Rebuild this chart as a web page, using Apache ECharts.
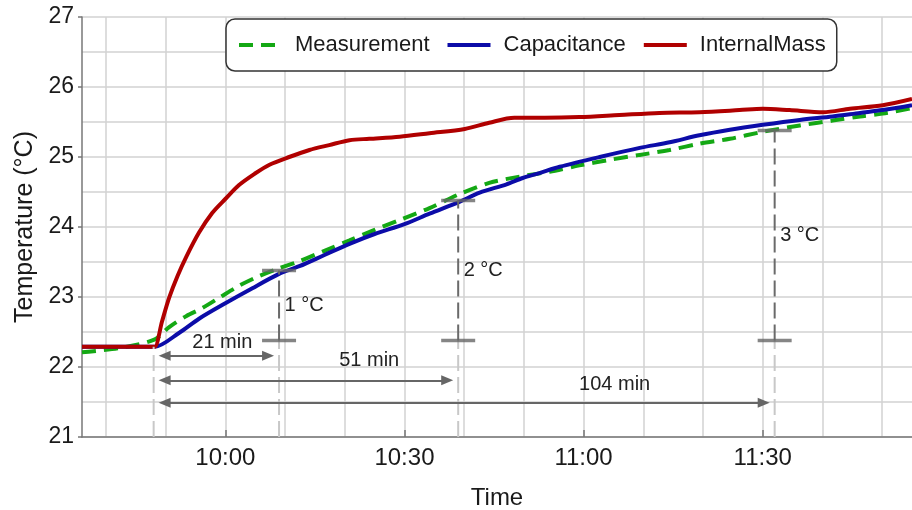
<!DOCTYPE html>
<html>
<head>
<meta charset="utf-8">
<script src="https://cdn.jsdelivr.net/npm/echarts@6/dist/echarts.min.js"></script>
<style>
  html, body { margin: 0; padding: 0; background: #ffffff; }
  #chart { width: 912px; height: 510px; }
</style>
</head>
<body>
<div id="chart"></div>
<script>
// All times are minutes after 09:00, temperatures in °C.
const measTime = [36, 42.2, 48.1, 50.6, 53.5, 56.1, 59, 62.3, 65.7, 69, 72.4, 76.6, 80.8, 85, 89.2, 94.2, 99.2, 104.2, 109.3, 114.3, 119.3, 124.4, 129.4, 134.4, 139.4, 144.5, 150, 156.2, 161.7, 166.3, 170.1, 175];
const measTemp = [22.21, 22.27, 22.39, 22.57, 22.73, 22.84, 22.99, 23.16, 23.30, 23.41, 23.51, 23.66, 23.81, 23.96, 24.10, 24.27, 24.47, 24.63, 24.72, 24.79, 24.88, 24.96, 25.03, 25.10, 25.19, 25.26, 25.36, 25.45, 25.52, 25.58, 25.62, 25.70];

const capTime = [36, 44, 47.8, 48.2, 52.3, 55.6, 60, 64, 69, 72.4, 76.6, 80.8, 85, 90, 94.2, 99.2, 102.6, 107.1, 109.8, 112.6, 116, 122.7, 129.4, 134.4, 139.4, 144.5, 150, 156.2, 161.7, 166.3, 170.1, 175];
const capTemp = [22.29, 22.29, 22.29, 22.29, 22.49, 22.69, 22.91, 23.10, 23.33, 23.44, 23.60, 23.76, 23.90, 24.04, 24.19, 24.36, 24.49, 24.61, 24.70, 24.77, 24.86, 25.00, 25.13, 25.21, 25.31, 25.39, 25.46, 25.53, 25.58, 25.63, 25.67, 25.74];

const imTime = [36, 44, 47.8, 48.2, 49.4, 50.6, 52, 53.5, 55.6, 57.8, 60, 62.3, 64.9, 67.4, 70.7, 74.1, 77.4, 80.8, 84.1, 89.2, 94.2, 100.1, 104.2, 108.4, 113.5, 119.3, 126, 132.7, 139.4, 146.1, 150, 154.5, 160.1, 164.6, 170.1, 175];
const imTemp = [22.29, 22.29, 22.29, 22.29, 22.65, 22.99, 23.30, 23.58, 23.92, 24.20, 24.40, 24.60, 24.76, 24.89, 25.00, 25.10, 25.17, 25.24, 25.26, 25.29, 25.34, 25.40, 25.49, 25.56, 25.56, 25.57, 25.60, 25.63, 25.64, 25.67, 25.69, 25.67, 25.64, 25.69, 25.74, 25.83];

const seriesNames = ['Measurement', 'Capacitance', 'InternalMass'];
const xTickMinutes = [60, 90, 120, 150];
const xGridMinutes = [40, 50, 60, 70, 80, 90, 100, 110, 120, 130, 140, 150, 160, 170];

// Response-time annotation: step starts at riseStart, spans end at riseStart + span
const riseStart = 48;
const spanMinutes = [21, 51, 104];
const spanLabels = ['21 min', '51 min', '104 min'];
const spanArrowTemp = [22.16, 21.81, 21.49];
const spanLabelAt = [59.5, 84.1, 125.2];
const flatTemp = 22.29;
const baseTemp = 22.38;
const riseDeltas = [1, 2, 3];
const riseLabels = ['1 °C', '2 °C', '3 °C'];

// label lift above each span arrow (px) and arrow head inset from the guides (px)
const spanLabelLift = [3, 9, 8];
const ARROW_INSET_PX = 11;

const FONT = "'Liberation Sans', Arial, Helvetica, sans-serif";
const zip = (a, b) => a.map((v, i) => [v, b[i]]);
const fmtClock = v => {
  const h = 9 + Math.floor(v / 60);
  const m = Math.round(v % 60);
  return h + ':' + (m < 10 ? '0' + m : m);
};

const ends = spanMinutes.map(s => riseStart + s);
const lightDash = { color: '#c8c8c8', width: 2, type: [16, 6] };
const darkDash = { color: '#6a6a6a', width: 2, type: [16, 6] };

function vLine(x, y0, y1, style) {
  return {
    type: 'line', data: [[x, y0], [x, y1]], symbol: 'none',
    lineStyle: style, silent: true, z: 4, animation: false
  };
}

const guideSeries = [vLine(riseStart, 21, flatTemp, lightDash)];
ends.forEach((x, i) => {
  guideSeries.push(vLine(x, 21, baseTemp, lightDash));
  guideSeries.push(vLine(x, baseTemp, baseTemp + riseDeltas[i], darkDash));
});

const barData = [];
ends.forEach((x, i) => {
  barData.push([x, baseTemp]);
  barData.push([x, baseTemp + riseDeltas[i]]);
});

function arrowLines(insetMin) {
  return spanMinutes.map((s, i) => [
    { coord: [riseStart + insetMin, spanArrowTemp[i]] },
    { coord: [riseStart + s - insetMin, spanArrowTemp[i]] }
  ]);
}

const labelData = [];
ends.forEach((x, i) => {
  labelData.push({
    value: [x, baseTemp + riseDeltas[i] / 2], name: riseLabels[i],
    label: { position: 'right', distance: 5 }
  });
});
spanLabels.forEach((t, i) => {
  labelData.push({
    value: [spanLabelAt[i], spanArrowTemp[i]], name: t,
    label: { position: 'top', distance: spanLabelLift[i] }
  });
});

const chart = echarts.init(document.getElementById('chart'), null, { renderer: 'canvas' });

chart.setOption({
  animation: false,
  backgroundColor: '#ffffff',
  grid: { left: 82, right: 0, top: 17, bottom: 73, containLabel: false, outerBoundsMode: 'none' },
  legend: {
    data: seriesNames,
    left: 226, top: 19,
    orient: 'horizontal',
    padding: [15, 11, 15, 11],
    itemWidth: 43, itemHeight: 14, itemGap: 16,
    backgroundColor: '#ffffff',
    borderColor: '#333333', borderWidth: 1.5, borderRadius: 9,
    lineStyle: { width: 4 },
    itemStyle: { opacity: 0 },
    textStyle: { fontSize: 22, fontFamily: FONT, color: '#1a1a1a', padding: [0, 0, 0, 8] }
  },
  xAxis: [{
    type: 'value',
    min: measTime[0], max: measTime[measTime.length - 1],
    name: 'Time', nameLocation: 'middle', nameGap: 49,
    nameTextStyle: { fontSize: 24, fontFamily: FONT, color: '#1a1a1a' },
    axisLine: { show: true, lineStyle: { color: '#777', width: 1.5 } },
    axisTick: { show: false, customValues: xGridMinutes },
    axisLabel: {
      customValues: xTickMinutes, formatter: fmtClock, margin: 9,
      fontSize: 24, fontFamily: FONT, color: '#1a1a1a'
    },
    splitLine: { show: true, lineStyle: { color: '#d2d2d2', width: 1.5 } }
  }, {
    type: 'value', position: 'bottom',
    min: measTime[0], max: measTime[measTime.length - 1],
    axisLine: { show: false },
    axisLabel: { show: false },
    splitLine: { show: false },
    axisTick: { show: true, inside: true, length: 7, customValues: xTickMinutes, lineStyle: { color: '#777', width: 1.5 } }
  }],
  yAxis: {
    type: 'value', min: 21, max: 27, interval: 1,
    name: 'Temperature (°C)', nameLocation: 'middle', nameGap: 44,
    nameTextStyle: { fontSize: 25, fontFamily: FONT, color: '#1a1a1a' },
    axisLine: { show: true, lineStyle: { color: '#777', width: 1.5 } },
    axisTick: { show: true, inside: false, length: 4, lineStyle: { color: '#777', width: 1.5 } },
    axisLabel: { margin: 8, fontSize: 23, fontFamily: FONT, color: '#1a1a1a' },
    splitLine: { show: true, lineStyle: { color: '#d2d2d2', width: 1.5 } },
    minorTick: { show: false, splitNumber: 2 },
    minorSplitLine: { show: true, lineStyle: { color: '#d2d2d2', width: 1.5 } }
  },
  series: [
    {
      name: seriesNames[0], type: 'line', data: zip(measTime, measTemp),
      symbol: 'none', z: 3, smooth: 0.3,
      lineStyle: { color: '#14a814', width: 4, type: [14, 8] },
      itemStyle: { color: '#14a814' }
    },
    {
      name: seriesNames[1], type: 'line', data: zip(capTime, capTemp),
      symbol: 'none', z: 3, smooth: 0.3,
      lineStyle: { color: '#0c0ca8', width: 4 },
      itemStyle: { color: '#0c0ca8' }
    },
    {
      name: seriesNames[2], type: 'line', data: zip(imTime, imTemp),
      symbol: 'none', z: 3, smooth: 0.3,
      lineStyle: { color: '#b00000', width: 4 },
      itemStyle: { color: '#b00000' }
    },
    ...guideSeries,
    {
      id: 'bars',
      type: 'scatter', data: barData, silent: true, z: 5,
      symbol: 'rect', symbolSize: [34, 3.5],
      itemStyle: { color: '#666666' },
      markLine: {
        silent: true, animation: false,
        symbol: ['triangle', 'triangle'], symbolSize: [10, 12],
        lineStyle: { color: '#666666', width: 2, type: 'solid' },
        label: { show: false },
        emphasis: { disabled: true },
        data: arrowLines(0)
      }
    },
    {
      type: 'scatter', data: labelData, silent: true, z: 6,
      symbolSize: 1, itemStyle: { color: 'rgba(0,0,0,0)' },
      label: { show: true, formatter: '{b}', color: '#222222', opacity: 1, fontSize: 20, fontFamily: FONT }
    }
  ]
});

// pull the span arrows inside the guide lines by a fixed pixel amount
const pxPerMin = chart.convertToPixel({ xAxisIndex: 0 }, 61) - chart.convertToPixel({ xAxisIndex: 0 }, 60);
chart.setOption({
  series: [{ id: 'bars', markLine: { data: arrowLines(ARROW_INSET_PX / pxPerMin) } }]
});
</script>
</body>
</html>
